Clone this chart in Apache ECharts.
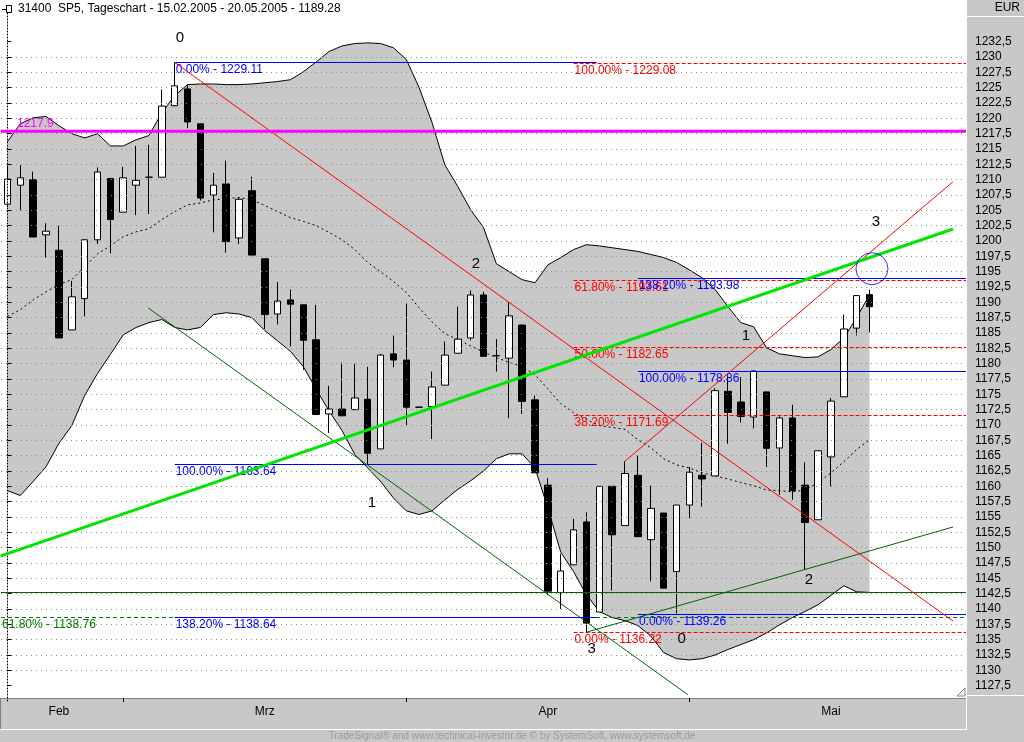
<!DOCTYPE html>
<html><head><meta charset="utf-8">
<script src="https://cdn.jsdelivr.net/npm/echarts@6/dist/echarts.min.js"></script>
<style>html,body{margin:0;padding:0;background:#fff;}#c{width:1024px;height:742px;}</style>
</head><body><div id="c"></div>
<script>
// ---- data ----
const days = ['15.02','16.02','17.02','18.02','22.02','23.02','24.02','25.02','28.02',
 '01.03','02.03','03.03','04.03','07.03','08.03','09.03','10.03','11.03','14.03','15.03','16.03','17.03','18.03','21.03','22.03','23.03','24.03','25.03','28.03','29.03','30.03','31.03',
 '01.04','04.04','05.04','06.04','07.04','08.04','11.04','12.04','13.04','14.04','15.04','18.04','19.04','20.04','21.04','22.04','25.04','26.04','27.04','28.04','29.04',
 '02.05','03.05','04.05','05.05','06.05','09.05','10.05','11.05','12.05','13.05','16.05','17.05','18.05','19.05','20.05'];
const futureDays = ['23.05','24.05','25.05','26.05','27.05','30.05','31.05'];
const opens = [1206.0,1209.1,1210.0,1201.0,1198.5,1185.5,1190.6,1200.2,1210.2,1204.7,1209.1,1210.4,1210.4,1222.06,1224.8,1219.1,1207.5,1209.3,1200.5,1208.2,1197.1,1188.1,1190.4,1189.6,1183.9,1171.8,1172.6,1172.5,1174.2,1166.1,1181.6,1180.6,1172.9,1173.0,1176.5,1181.7,1184.2,1191.2,1181.3,1180.9,1186.3,1174.1,1160.2,1142.7,1147.2,1154.2,1139.5,1160.0,1153.6,1161.8,1151.3,1155.65,1146.1,1156.95,1161.8,1161.7,1175.5,1173.75,1171.3,1175.4,1166.25,1171.15,1160.2,1154.55,1164.8,1174.6,1185.8,1191.25];
const highs = [1212.3,1212.4,1211.3,1202.9,1202.5,1193.5,1200.3,1212.0,1210.2,1212.1,1215.5,1215.7,1224.7,1229.11,1225.5,1219.2,1211.1,1213.1,1207.1,1210.5,1197.1,1193.3,1192.1,1189.6,1189.6,1176.4,1180.2,1180.0,1179.5,1181.6,1184.6,1189.8,1173.0,1178.7,1183.6,1189.3,1191.95,1191.7,1184.0,1190.05,1186.3,1174.8,1161.35,1149.0,1154.7,1155.75,1160.0,1160.0,1164.1,1165.0,1160.1,1155.65,1156.95,1163.15,1167.1,1176.0,1177.8,1177.8,1178.86,1175.4,1171.4,1173.3,1163.9,1165.8,1174.4,1188.0,1191.1,1192.05];
const lows = [1205.5,1205.0,1200.65,1197.3,1184.2,1185.5,1187.7,1199.5,1198.0,1204.7,1204.2,1204.4,1210.4,1222.0,1218.4,1206.6,1201.4,1198.1,1199.5,1197.7,1185.65,1186.4,1182.8,1179.0,1171.7,1168.7,1171.5,1172.5,1163.64,1166.1,1179.4,1169.9,1172.8,1167.7,1176.5,1181.7,1183.8,1181.1,1178.7,1171.1,1171.8,1162.2,1142.3,1140.0,1147.2,1136.22,1139.5,1143.0,1153.6,1151.8,1144.5,1143.4,1139.26,1154.8,1156.7,1161.7,1166.95,1170.4,1169.45,1163.15,1158.6,1157.8,1146.4,1154.55,1160.0,1174.6,1184.6,1185.1];
const closes = [1210.1,1210.3,1200.65,1201.6,1184.2,1190.9,1200.2,1211.25,1203.5,1210.3,1209.9,1210.4,1222.0,1225.3,1219.4,1207.0,1209.1,1199.9,1206.8,1197.7,1188.0,1190.2,1189.7,1183.8,1171.7,1172.6,1171.5,1174.4,1165.4,1181.4,1180.6,1172.9,1172.9,1176.2,1181.4,1184.0,1191.2,1181.2,1181.3,1187.8,1173.85,1162.2,1142.9,1146.2,1152.9,1137.7,1160.0,1152.1,1162.1,1151.8,1156.4,1143.4,1156.95,1162.3,1161.2,1175.6,1172.05,1171.4,1178.8,1166.2,1171.15,1159.3,1154.1,1165.8,1173.9,1185.65,1191.1,1189.28];
const bbUpper = [1216.2,1219.1,1220.1,1220.3,1218.8,1217.5,1216.8,1217.5,1215.5,1215.5,1216.5,1217.2,1220.9,1223.7,1225.5,1225.6,1225.6,1225.5,1225.5,1225.6,1225.8,1226.0,1226.3,1227.6,1229.2,1230.9,1231.8,1232.2,1232.3,1232.2,1231.5,1229.6,1225.0,1219.3,1212.4,1208.9,1205.1,1202.2,1196.3,1195.0,1193.7,1193.2,1196.1,1197.3,1198.6,1199.4,1199.2,1198.9,1198.6,1198.3,1197.8,1197.3,1196.5,1195.3,1194.0,1192.1,1189.3,1186.7,1186.0,1182.6,1181.6,1181.3,1181.0,1181.1,1182.3,1184.2,1187.5,1191.2];
const bbMiddle = [1187.7,1188.8,1190.4,1191.7,1192.9,1193.7,1195.8,1197.9,1199.2,1200.7,1201.5,1202.0,1203.5,1204.8,1205.9,1206.2,1206.7,1206.9,1207.1,1206.7,1205.8,1204.8,1203.8,1203.2,1202.5,1201.4,1200.2,1198.6,1196.5,1195.0,1193.4,1191.6,1189.1,1186.8,1184.9,1183.9,1182.9,1181.9,1181.0,1180.2,1179.5,1178.2,1175.9,1173.5,1172.0,1170.9,1169.9,1169.6,1169.3,1167.6,1166.3,1164.5,1163.5,1163.0,1162.2,1161.7,1161.2,1160.6,1160.1,1159.4,1159.3,1159.1,1159.4,1160.6,1162.2,1164.0,1166.0,1167.6];
const bbLower = [1159.3,1158.5,1160.8,1163.2,1167.0,1169.9,1174.8,1178.4,1181.5,1184.7,1185.9,1186.7,1187.2,1185.9,1185.5,1185.9,1188.0,1188.3,1188.1,1187.5,1185.4,1183.7,1182.0,1179.5,1175.8,1172.3,1169.1,1165.2,1163.0,1160.8,1158.1,1156.0,1155.4,1156.0,1157.8,1159.5,1160.9,1162.5,1164.5,1165.3,1165.3,1163.0,1156.5,1149.3,1146.1,1142.3,1139.6,1138.6,1138.1,1137.3,1135.6,1132.9,1131.9,1131.7,1131.9,1132.5,1133.4,1134.2,1135.0,1136.1,1137.4,1138.6,1139.6,1140.7,1142.2,1143.8,1142.8,1142.7];
const yTicks = [1127.5,1130,1132.5,1135,1137.5,1140,1142.5,1145,1147.5,1150,1152.5,1155,1157.5,1160,1162.5,1165,1167.5,1170,1172.5,1175,1177.5,1180,1182.5,1185,1187.5,1190,1192.5,1195,1197.5,1200,1202.5,1205,1207.5,1210,1212.5,1215,1217.5,1220,1222.5,1225,1227.5,1230,1232.5];
const monthTickIdx = [9,31,53];
const monthLabelIdx = [4,20,42,64];
const monthNames = ['Feb','Mrz','Apr','Mai'];
// trend lines [index, price]
const limeTrend = [[-0.5,1148.66],[73.49,1201.96]];
const greenDown = [[10.95,1189.08],[52.89,1126.02]];
const greenUp = [[45,1136.22],[73.49,1153.37]];
const redDown = [[13,1229.11],[73.49,1138.04]];
const redUp = [[48,1164.1],[73.49,1209.67]];
// fibonacci levels [percent, price] and ranges [fromIndex, toIndex]
const fibBlue1Levels = [[0,1229.11],[100,1163.64],[138.2,1138.64]];
const fibBlue1Range = [13,45.8];
const fibRedLevels = [[100,1229.08],[61.8,1193.61],[50,1182.65],[38.2,1171.69],[0,1136.22]];
const fibRedRange = [44,74.5];
const fibBlue2Levels = [[0,1139.26],[100,1178.86],[138.2,1193.98]];
const fibBlue2Range = [49,74.5];
const fibGreenLevels = [[61.8,1138.76]];
const fibGreenRange = [-0.5,74.5];
const resistanceLevel = 1217.9;
const supportLevel = 1142.76;
const waveText = ['0','1','2','3','0','1','2','3'];
const waveX = [13.41,28.33,36.42,45.4,52.4,57.4,62.3,67.5];
const waveY = [1233.1,1157.33,1196.3,1133.5,1135.1,1184.56,1144.77,1203.15];
const circleAt = [67.19,1195.48];

// ---- chart ----
const FONT = '"Liberation Sans", Arial, sans-serif';
const chart = echarts.init(document.getElementById('c'), null, {renderer:'canvas'});
const candleData = opens.map((o,i)=>[o, closes[i], lows[i], highs[i]]);

function levelSeries(levels, range, color, dash, lw, showLabel){
  return {
    type:'custom', xAxisIndex:1, yAxisIndex:0, z:6, silent:true,
    encode:{x:[0,1], y:2},
    data: levels.map(l=>[range[0], range[1], l[1], l[0]]),
    renderItem:(p,api)=>{
      const a = api.coord([api.value(0), api.value(2)]);
      const b = api.coord([api.value(1), api.value(2)]);
      const y = Math.round(a[1]) + 0.5;
      const ch = [{type:'line', shape:{x1:a[0],y1:y,x2:b[0],y2:y},
        style:{stroke:color, lineWidth:lw, lineDash:dash}}];
      if (showLabel) ch.push({type:'text', style:{
        text: Number(api.value(3)).toFixed(2)+'% - '+Number(api.value(2)).toFixed(2),
        x:a[0]+1, y:y+1, fill:color, font:'12px '+FONT, align:'left', verticalAlign:'top'}});
      return {type:'group', children:ch};
    }
  };
}
function trend(pts, color, w){
  return {type:'line', xAxisIndex:1, yAxisIndex:0, z:6, data:pts, symbol:'none', silent:true,
    lineStyle:{color:color, width:w}, animation:false};
}

const option = {
  animation:false,
  grid:{left:1, right:58, top:11, bottom:41},
  xAxis:[{
    type:'category', data: days.concat(futureDays), boundaryGap:true, position:'bottom', offset:-3,
    axisLine:{show:false},
    axisTick:{show:true, alignWithLabel:true, length:4, interval:(i)=>monthTickIdx.includes(i), lineStyle:{color:'#000'}},
    axisLabel:{interval:(i)=>monthLabelIdx.includes(i), formatter:(v,i)=>{const k=monthLabelIdx.indexOf(i);return k>=0?monthNames[k]:'';},
      color:'#000', fontSize:12, fontFamily:FONT, margin:8},
    splitLine:{show:false}, z:5
  },{
    type:'value', min:-0.5, max:74.5, show:false
  }],
  yAxis:{
    type:'value', position:'right', min:1125, max:1237.5, interval:2.5, offset:3,
    axisLine:{show:true, lineStyle:{color:'#000', type:[1,2]}},
    axisTick:{show:true, customValues:yTicks, length:4, lineStyle:{color:'#000'}},
    axisLabel:{customValues:yTicks, formatter:(v)=>String(v).replace('.',','), color:'#000', fontSize:12, fontFamily:FONT, margin:6},
    splitLine:{show:true, showMinLine:false, showMaxLine:false, lineStyle:{color:'#8c8c8c', type:[1,4], width:1}},
    z:5
  },
  series:[
    { // bollinger band fill
      type:'custom', xAxisIndex:1, yAxisIndex:0, z:1, silent:true, data:[[0,1200]],
      renderItem:(p,api)=>{
        const pts=[];
        for(let i=0;i<bbUpper.length;i++) pts.push(api.coord([i,bbUpper[i]]));
        for(let i=bbLower.length-1;i>=0;i--) pts.push(api.coord([i,bbLower[i]]));
        return {type:'polygon', shape:{points:pts}, style:{fill:'#c8c8c8'}};
      }
    },
    {type:'line', data:bbUpper, symbol:'none', z:2, silent:true, lineStyle:{color:'#000', width:1}},
    {type:'line', data:bbLower, symbol:'none', z:2, silent:true, lineStyle:{color:'#000', width:1}},
    {type:'line', data:bbMiddle, symbol:'none', z:2, silent:true, lineStyle:{color:'#000', width:1, type:[2,3]}},
    {type:'candlestick', data:candleData, barWidth:7, z:3, silent:true,
      itemStyle:{color:'#fff', color0:'#000', borderColor:'#000', borderColor0:'#000', borderWidth:1}},
    levelSeries([[0,supportLevel]], [-0.5,74.5], '#006400', null, 1, false),
    levelSeries(fibGreenLevels, fibGreenRange, '#007800', [4,3], 1, true),
    levelSeries(fibBlue1Levels, fibBlue1Range, '#0000ff', null, 1, true),
    levelSeries(fibRedLevels, fibRedRange, '#ff0000', [4,2], 1, true),
    levelSeries(fibBlue2Levels, fibBlue2Range, '#0000ff', null, 1, true),
    trend(greenDown, '#006400', 1),
    trend(greenUp, '#006400', 1),
    trend(redDown, '#ff0000', 1),
    trend(redUp, '#ff0000', 1),
    trend(limeTrend, '#00e600', 3),
    { // resistance line
      type:'custom', xAxisIndex:1, yAxisIndex:0, z:7, silent:true, encode:{x:0,y:1},
      data:[[-0.5,resistanceLevel]],
      renderItem:(p,api)=>{
        const a=api.coord([-0.5,resistanceLevel]), b=api.coord([74.5,resistanceLevel]);
        return {type:'group', children:[
          {type:'line', shape:{x1:a[0],y1:a[1],x2:b[0],y2:b[1]}, style:{stroke:'#ff00ff', lineWidth:3}},
          {type:'text', style:{text:String(resistanceLevel), x:a[0]+16, y:a[1]-2, fill:'#ff00ff', font:'12px '+FONT, align:'left', verticalAlign:'bottom'}}
        ]};
      }
    },
    {type:'scatter', xAxisIndex:1, yAxisIndex:0, z:8, silent:true, data:[circleAt], symbol:'circle', symbolSize:32,
      itemStyle:{color:'rgba(0,0,0,0)', borderColor:'#0000ff', borderWidth:1}},
    { // wave counts
      type:'custom', xAxisIndex:1, yAxisIndex:0, z:8, silent:true, encode:{x:0,y:1},
      data: waveX.map((x,i)=>[x, waveY[i]]),
      renderItem:(p,api)=>{
        const c=api.coord([api.value(0),api.value(1)]);
        return {type:'text', style:{text:waveText[p.dataIndex], x:c[0], y:c[1], fill:'#000', font:'15px '+FONT, align:'center', verticalAlign:'middle'}};
      }
    }
  ],
  graphic:{elements:[
    {type:'rect', z:-10, silent:true, shape:{x:966,y:0,width:58,height:742}, style:{fill:'#c8c8c8'}},
    {type:'rect', z:-10, silent:true, shape:{x:0,y:698,width:966,height:44}, style:{fill:'#c8c8c8'}},
    {type:'line', z:-9, silent:true, shape:{x1:966.5,y1:0,x2:966.5,y2:730}, style:{stroke:'#ffffff', lineWidth:1}},
    {type:'line', z:-9, silent:true, shape:{x1:0,y1:698.5,x2:966,y2:698.5}, style:{stroke:'#808080', lineWidth:1}},
    {type:'line', z:-9, silent:true, shape:{x1:0.5,y1:698,x2:0.5,y2:730}, style:{stroke:'#808080', lineWidth:1}},
    {type:'line', z:-9, silent:true, shape:{x1:0,y1:729.5,x2:966,y2:729.5}, style:{stroke:'#ffffff', lineWidth:1}},
    {type:'line', z:-9, silent:true, shape:{x1:967,y1:695.5,x2:1024,y2:695.5}, style:{stroke:'#ffffff', lineWidth:1}},
    {type:'rect', z:20, silent:true, shape:{x:967,y:0,width:57,height:16}, style:{fill:'#c8c8c8'}},
    {type:'line', z:20, silent:true, shape:{x1:967,y1:16.5,x2:1024,y2:16.5}, style:{stroke:'#ffffff', lineWidth:1}},
    {type:'text', z:21, silent:true, style:{text:'EUR', x:1020, y:8, align:'right', verticalAlign:'middle', fill:'#000', font:'12px '+FONT}},
    {type:'text', z:21, silent:true, style:{text:'31400  SP5, Tageschart - 15.02.2005 - 20.05.2005 - 1189.28', x:18, y:9, align:'left', verticalAlign:'middle', fill:'#000', font:'12px '+FONT}},
    {type:'rect', z:21, silent:true, shape:{x:6.5,y:5.5,width:5,height:7}, style:{fill:'#fff', stroke:'#000', lineWidth:1}},
    {type:'line', z:21, silent:true, shape:{x1:2,y1:9.5,x2:6,y2:9.5}, style:{stroke:'#000', lineWidth:1}},
    {type:'polyline', z:21, silent:true, shape:{points:[[957,696],[965,688],[965,696],[957,696]]}, style:{stroke:'#808080', fill:'#fff', lineWidth:1}},
    {type:'text', z:21, silent:true, style:{text:'TradeSignal\u00ae and www.technical-investor.de \u00a9 by SystemSoft, www.systemsoft.de', x:512, y:736, align:'center', verticalAlign:'middle', fill:'#9c9c9c', font:'10px '+FONT}}
  ]}
};
chart.setOption(option);
</script>
</body></html>
